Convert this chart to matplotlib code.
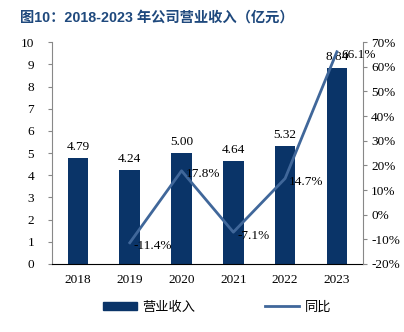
import matplotlib.pyplot as plt
from matplotlib.lines import Line2D
from matplotlib.patches import Patch

plt.rcParams['font.family'] = ['Liberation Serif', 'Noto Sans CJK SC']

years = ['2018', '2019', '2020', '2021', '2022', '2023']
revenue = [4.79, 4.24, 5.00, 4.64, 5.32, 8.84]
growth = [None, -11.4, 17.8, -7.1, 14.7, 66.1]

bar_color = '#0a3468'
line_color = '#40679a'

fig = plt.figure(figsize=(4.04, 3.32), dpi=100)
ax = fig.add_axes([0.129, 0.205, 0.769, 0.668])
x = list(range(len(years)))
ax.bar(x, revenue, width=0.4, color=bar_color, zorder=2)
for xi, v in zip(x, revenue):
    ax.text(xi, v + 0.22, f'{v:.2f}', ha='center', va='bottom', fontsize=9.5)

ax.set_xlim(-0.5, len(years) - 0.5)
ax.set_ylim(0, 10)
ax.set_yticks(range(0, 11))
ax.set_xticks(x)
ax.set_xticklabels(years)
ax.tick_params(axis='y', labelsize=9.5, length=3, color='#888888', pad=10)
ax.tick_params(axis='x', labelsize=9.5, length=0, pad=7)
ax.spines['top'].set_visible(False)
ax.spines['right'].set_visible(False)
ax.spines['left'].set_color('#888888')
ax.spines['bottom'].set_color('black')

ax2 = ax.twinx()
gx = [xi for xi, g in zip(x, growth) if g is not None]
gy = [g for g in growth if g is not None]
ax2.plot(gx, gy, color=line_color, lw=2, zorder=3)
for xi, g in zip(gx, gy):
    ax2.text(xi + 0.08, g - 1.5, f'{g:.1f}%', ha='left', va='center', fontsize=9.5)
ax2.set_ylim(-20, 70)
ax2.set_yticks(range(-20, 71, 10))
ax2.set_yticklabels([f'{t}%' for t in range(-20, 71, 10)])
ax2.tick_params(axis='y', labelsize=9.5, length=3, color='#888888', pad=3)
for s in ['top', 'left', 'bottom']:
    ax2.spines[s].set_visible(False)
ax2.spines['right'].set_color('#888888')

fig.text(0.05, 0.948, '图10：2018-2023 年公司营业收入（亿元）', fontsize=10.3,
         fontweight='bold', color='#1f497d', va='center',
         family=['Liberation Sans', 'Noto Sans CJK SC'])

handles = [Patch(color=bar_color), Line2D([0], [0], color=line_color, lw=2)]
fig.legend(handles, ['营业收入', '同比'], loc='center', bbox_to_anchor=(0.537, 0.075),
           ncol=2, frameon=False, handlelength=2.6, handleheight=0.5,
           columnspacing=5.3, handletextpad=0.4,
           prop={'family': ['Noto Sans CJK SC'], 'size': 9.5})

fig.savefig('out.png', dpi=100)
